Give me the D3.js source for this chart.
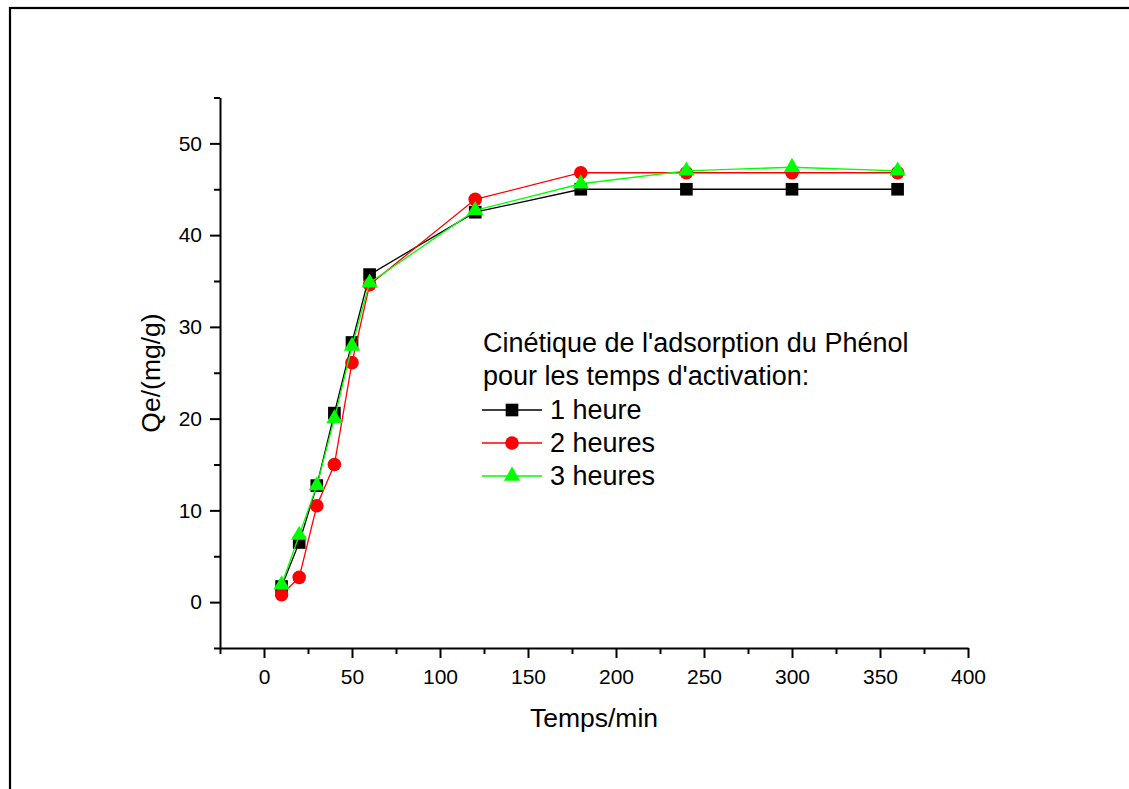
<!DOCTYPE html>
<html>
<head>
<meta charset="utf-8">
<script src="https://cdn.jsdelivr.net/npm/d3@7"></script>
<style>
  body { margin: 0; background: #fff; }
  svg { display: block; font-family: "Liberation Sans", Arial, sans-serif; }
  .axis path, .axis line { stroke: #000; stroke-width: 2; }
  .axis text { font-size: 21px; fill: #000; font-family: "Liberation Sans", Arial, sans-serif; }
</style>
</head>
<body>
<script>
// time in minutes
var temps = [10, 20, 30, 40, 50, 60, 120, 180, 240, 300, 360];

// Qe (mg/g) for each activation time
var heure1 = [1.7, 6.5, 12.7, 20.6, 28.3, 35.7, 42.5, 45.0, 45.0, 45.0, 45.0];
var heures2 = [0.8, 2.7, 10.5, 15.0, 26.1, 34.6, 43.9, 46.8, 46.8, 46.8, 46.8];
var heures3 = [1.9, 7.3, 12.7, 20.0, 27.9, 34.8, 42.7, 45.6, 47.0, 47.4, 47.0];

var seriesNames = ["1 heure", "2 heures", "3 heures"];
var xTicks = [0, 50, 100, 150, 200, 250, 300, 350, 400];
var xMinor = [-25, 25, 75, 125, 175, 225, 275, 325, 375];
var yTicks = [0, 10, 20, 30, 40, 50];
var yMinor = [-5, 5, 15, 25, 35, 45, 55];

var svgWidth = 1129;
var svgHeight = 789;

var svg = d3.select("body")
  .append("svg")
  .attr("width", svgWidth)
  .attr("height", svgHeight);

// frame (runs off the right and bottom edges)
svg.append("rect")
  .attr("x", 10)
  .attr("y", 8)
  .attr("width", 1200)
  .attr("height", 900)
  .attr("fill", "none")
  .attr("stroke", "#000")
  .attr("stroke-width", 2.2);

var xScale = d3.scaleLinear().domain([-25, 400]).range([220, 968]);
var yScale = d3.scaleLinear().domain([-5, 55]).range([648, 97.5]);

// x axis
svg.append("g")
  .attr("class", "axis")
  .attr("transform", "translate(0,648)")
  .call(d3.axisBottom(xScale).tickValues(xTicks).tickSize(10).tickSizeOuter(0).tickPadding(11))
  .call(g => g.selectAll("text").attr("dy", "0.71em"));

svg.append("g")
  .attr("class", "axis")
  .attr("transform", "translate(0,648)")
  .call(d3.axisBottom(xScale).tickValues(xMinor).tickSize(6).tickSizeOuter(0).tickFormat(""))
  .call(g => g.select(".domain").remove());

// y axis
svg.append("g")
  .attr("class", "axis")
  .attr("transform", "translate(220,0)")
  .call(d3.axisLeft(yScale).tickValues(yTicks).tickSize(10).tickSizeOuter(0).tickPadding(8));

svg.append("g")
  .attr("class", "axis")
  .attr("transform", "translate(220,0)")
  .call(d3.axisLeft(yScale).tickValues(yMinor).tickSize(6).tickSizeOuter(0).tickFormat(""))
  .call(g => g.select(".domain").remove());

// axis titles
svg.append("text")
  .attr("x", 594)
  .attr("y", 727)
  .attr("text-anchor", "middle")
  .style("font-size", "26.5px")
  .text("Temps/min");

svg.append("text")
  .attr("transform", "translate(160,373) rotate(-90)")
  .attr("text-anchor", "middle")
  .style("font-size", "26.5px")
  .text("Qe/(mg/g)");

var series = [
  { name: seriesNames[0], values: heure1, color: "#000000", symbol: d3.symbolSquare, size: 160 },
  { name: seriesNames[1], values: heures2, color: "#ff0000", symbol: d3.symbolCircle, size: 145 },
  { name: seriesNames[2], values: heures3, color: "#00ff00", symbol: d3.symbolTriangle, size: 115 }
];

var line = d3.line()
  .x((d, i) => xScale(temps[i]))
  .y(d => yScale(d));

series.forEach(function(s) {
  svg.append("path")
    .datum(s.values)
    .attr("fill", "none")
    .attr("stroke", s.color)
    .attr("stroke-width", 1.3)
    .attr("d", line);

  svg.selectAll(null)
    .data(s.values)
    .enter()
    .append("path")
    .attr("transform", (d, i) => `translate(${xScale(temps[i])},${yScale(d)})`)
    .attr("d", d3.symbol().type(s.symbol).size(s.size))
    .attr("fill", s.color);
});

// legend
var legend = svg.append("g").style("font-size", "27px");

legend.append("text").attr("x", 483).attr("y", 352).text("Cinétique de l'adsorption du Phénol");
legend.append("text").attr("x", 483).attr("y", 385).text("pour les temps d'activation:");

series.forEach(function(s, i) {
  var ly = 410 + i * 33;
  legend.append("line")
    .attr("x1", 482).attr("x2", 542)
    .attr("y1", ly).attr("y2", ly)
    .attr("stroke", s.color)
    .attr("stroke-width", 1.3);
  legend.append("path")
    .attr("transform", `translate(512,${ly})`)
    .attr("d", d3.symbol().type(s.symbol).size(s.size))
    .attr("fill", s.color);
  legend.append("text")
    .attr("x", 550)
    .attr("y", ly + 9)
    .text(s.name);
});
</script>
</body>
</html>
